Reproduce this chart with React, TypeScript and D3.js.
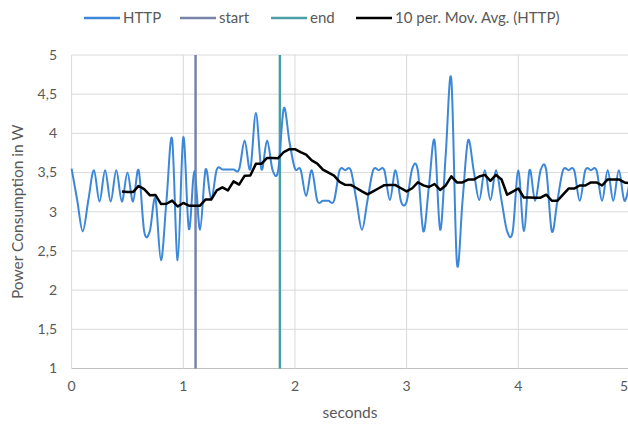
import React from "react";
import * as d3 from "d3";

// HTTP power draw, sampled every 50 ms from 0 s to 5 s
const sampleStep = 0.05;
const httpWatts = [
  3.55, 3.15, 2.75, 3.15, 3.53, 3.13, 3.53, 3.13, 3.53, 3.13,
  3.50, 3.13, 3.53, 2.75, 2.75, 3.17, 2.38, 3.15, 3.93, 2.38,
  3.95, 2.78, 3.52, 2.77, 3.54, 3.16, 3.54, 3.54, 3.54, 3.54,
  3.54, 3.91, 3.54, 4.26, 3.54, 3.91, 3.53, 3.53, 4.32, 3.90,
  3.55, 3.54, 3.20, 3.53, 3.14, 3.14, 3.14, 3.14, 3.53, 3.53,
  3.53, 3.15, 2.77, 3.15, 3.53, 3.53, 3.53, 3.15, 3.53, 3.13,
  3.13, 3.55, 3.53, 2.75, 3.33, 3.91, 2.77, 3.73, 4.69, 2.35,
  3.13, 3.91, 3.53, 3.15, 3.53, 3.15, 3.53, 3.14, 2.75, 2.75,
  3.53, 2.75, 3.53, 3.14, 3.53, 3.53, 2.75, 3.14, 3.53, 3.53,
  3.53, 3.14, 3.53, 3.53, 3.53, 3.14, 3.53, 3.14, 3.53, 3.14,
  3.40,
];
const movingAvgPeriod = 10;

// Event markers (seconds)
const startTime = 1.11;
const endTime = 1.865;

const xTicks = [0, 1, 2, 3, 4, 5];
const yTicks = [1, 1.5, 2, 2.5, 3, 3.5, 4, 4.5, 5];

const legendItems = [
  { label: "HTTP", color: "#3d87d8" },
  { label: "start", color: "#7883a8" },
  { label: "end", color: "#4a9fa6" },
  { label: "10 per. Mov. Avg. (HTTP)", color: "#000000" },
];

const W = 628;
const H = 424;
const FONT = "Lato, 'Open Sans', sans-serif";
const TEXT = "#595959";

export default function App() {
  const x = d3.scaleLinear().domain([0, 5]).range([71.6, 630]);
  const y = d3.scaleLinear().domain([1, 5]).range([368.5, 55]);

  const points: [number, number][] = httpWatts.map((v, i) => [i * sampleStep, v]);

  // trailing 10-sample moving average of the HTTP series
  const avgPoints: [number, number][] = [];
  for (let i = movingAvgPeriod - 1; i < httpWatts.length; i++) {
    const m = d3.mean(httpWatts.slice(i - movingAvgPeriod + 1, i + 1)) as number;
    avgPoints.push([i * sampleStep, m]);
  }

  const smooth = d3
    .line<[number, number]>()
    .x((d) => x(d[0]))
    .y((d) => y(d[1]))
    .curve(d3.curveCatmullRom.alpha(0));
  const straight = d3
    .line<[number, number]>()
    .x((d) => x(d[0]))
    .y((d) => y(d[1]));

  const fmt = (v: number) => String(v).replace(".", ",");

  const legendX = [84, 180, 271, 356];

  return (
    <svg
      width={W}
      height={H}
      style={{ position: "absolute", left: 0, top: 0, background: "#fff" }}
      fontFamily={FONT}
    >
      {/* gridlines */}
      {yTicks.map((t) => (
        <line
          key={"gy" + t}
          x1={x(0)}
          x2={W}
          y1={y(t)}
          y2={y(t)}
          stroke={t === 1 ? "#bfbfbf" : "#d9d9d9"}
          strokeWidth={1}
        />
      ))}
      {xTicks.map((t) => (
        <line
          key={"gx" + t}
          x1={x(t)}
          x2={x(t)}
          y1={y(5)}
          y2={y(1)}
          stroke="#d9d9d9"
          strokeWidth={1}
        />
      ))}

      {/* tick labels */}
      {yTicks.map((t) => (
        <text
          key={"ly" + t}
          x={57}
          y={y(t)}
          dy="0.35em"
          textAnchor="end"
          fontSize={14}
          fill={TEXT}
        >
          {fmt(t)}
        </text>
      ))}
      {xTicks.map((t) => (
        <text
          key={"lx" + t}
          x={Math.min(x(t), W - 4)}
          y={391}
          textAnchor="middle"
          fontSize={14}
          fill={TEXT}
        >
          {t}
        </text>
      ))}

      {/* axis titles */}
      <text x={350} y={418} textAnchor="middle" fontSize={15.5} fill={TEXT}>
        seconds
      </text>
      <text
        transform={`translate(23,${(y(1) + y(5)) / 2}) rotate(-90)`}
        textAnchor="middle"
        fontSize={15.5}
        fill={TEXT}
      >
        Power Consumption in W
      </text>

      {/* start / end markers */}
      <line x1={x(startTime)} x2={x(startTime)} y1={y(5)} y2={y(1)} stroke={legendItems[1].color} strokeWidth={2.5} />
      <line x1={x(endTime)} x2={x(endTime)} y1={y(5)} y2={y(1)} stroke={legendItems[2].color} strokeWidth={2.5} />

      {/* HTTP series */}
      <path d={smooth(points) || ""} fill="none" stroke={legendItems[0].color} strokeWidth={2} strokeLinejoin="round" />

      {/* moving average */}
      <path d={straight(avgPoints) || ""} fill="none" stroke="#000" strokeWidth={2.5} strokeLinejoin="round" />

      {/* legend */}
      {legendItems.map((it, i) => (
        <g key={it.label} transform={`translate(${legendX[i]},18)`}>
          <line x1={0} x2={36} y1={0} y2={0} stroke={it.color} strokeWidth={2.5} />
          <text x={39} y={0} dy="0.35em" fontSize={15} fill={TEXT}>
            {it.label}
          </text>
        </g>
      ))}
    </svg>
  );
}
